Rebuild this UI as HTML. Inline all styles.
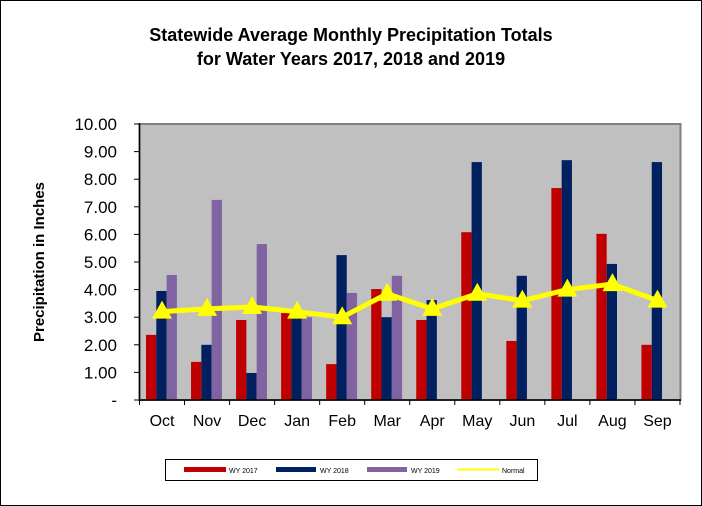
<!DOCTYPE html>
<html><head><style>
html,body{margin:0;padding:0;background:#fff}
svg{display:block;font-family:"Liberation Sans",Arial,sans-serif}
</style></head><body>
<svg width="702" height="506" viewBox="0 0 702 506" xmlns="http://www.w3.org/2000/svg">
<rect x="0.5" y="0.5" width="701" height="505" fill="#fff" stroke="#000"/>
<text x="351" y="41" text-anchor="middle" font-size="18" font-weight="bold">Statewide Average Monthly Precipitation Totals</text>
<text x="351" y="65" text-anchor="middle" font-size="18" font-weight="bold">for Water Years 2017, 2018 and 2019</text>
<rect x="139.5" y="124" width="541" height="276" fill="#c0c0c0" stroke="#808080" stroke-width="2"/>
<g id="bars"></g>
<line x1="139.5" y1="123" x2="139.5" y2="401" stroke="#000" stroke-width="1.5"/>
<line x1="139" y1="400" x2="681" y2="400" stroke="#000" stroke-width="1.5"/>
<g id="ticks" stroke="#000" stroke-width="1"></g>
<g id="ylab" font-size="17" text-anchor="end"></g>
<g id="xlab" font-size="16" text-anchor="middle"></g>
<polyline id="norm" fill="none" stroke="#ffff00" stroke-width="5" stroke-linejoin="round"/>
<g id="tri" fill="#ffff00"></g>
<text transform="translate(44,262) rotate(-90)" text-anchor="middle" font-size="15" font-weight="bold">Precipitation in Inches</text>
<rect x="165.5" y="459.5" width="372" height="21" fill="#fff" stroke="#000"/>
<rect x="184" y="467" width="42" height="5" fill="#c00000"/>
<text x="229" y="473" font-size="7">WY 2017</text>
<rect x="276" y="467" width="40" height="5" fill="#002060"/>
<text x="320" y="473" font-size="7">WY 2018</text>
<rect x="367" y="467" width="40" height="5" fill="#8064a2"/>
<text x="411" y="473" font-size="7">WY 2019</text>
<line x1="457" y1="469.5" x2="499" y2="469.5" stroke="#ffff00" stroke-width="2"/>
<text x="502" y="473" font-size="7">Normal</text>
</svg>
<script>
const ns="http://www.w3.org/2000/svg";
const m=["Oct","Nov","Dec","Jan","Feb","Mar","Apr","May","Jun","Jul","Aug","Sep"];
const r=[2.36,1.38,2.9,3.15,1.3,4.02,2.9,6.08,2.14,7.68,6.02,2.0];
const n=[3.95,2.0,0.98,3.0,5.25,3.0,3.62,8.62,4.5,8.69,4.93,8.62];
const p=[4.53,7.25,5.65,3.0,3.88,4.5,0,0,0,0,0,0];
const nm=[3.2,3.3,3.37,3.2,3.0,3.85,3.3,3.85,3.6,4.0,4.2,3.6];
const x0=139.5,cw=45.04,y0=400,s=27.6;
const Y=v=>y0-v*s;
function el(t,a,par,txt){const e=document.createElementNS(ns,t);for(const k in a)e.setAttribute(k,a[k]);if(txt!==undefined)e.textContent=txt;document.getElementById(par).appendChild(e);return e;}
const cols=["#c00000","#002060","#8064a2"];
let pts=[];
for(let i=0;i<12;i++){
 const gx=x0+i*cw+6.5;
 [r,n,p].forEach((a,j)=>{if(a[i]>0)el("rect",{x:gx+j*10.3,y:Y(a[i]),width:10.3,height:a[i]*s,fill:cols[j]},"bars");});
 const cx=x0+i*cw+cw/2;
 pts.push(cx+","+Y(nm[i]));
 const ty=Y(nm[i]);
 el("polygon",{points:`${cx},${ty-11} ${cx-10},${ty+7} ${cx+10},${ty+7}`},"tri");
 el("text",{x:cx,y:426},"xlab",m[i]);
}
document.getElementById("norm").setAttribute("points",pts.join(" "));
for(let i=0;i<=12;i++){const x=x0+i*cw;el("line",{x1:x,y1:400,x2:x,y2:405},"ticks");}
for(let v=0;v<=10;v++){const y=Y(v);el("line",{x1:134,y1:y,x2:139.5,y2:y},"ticks");
 el("text",{x:117,y:y+6},"ylab",v===0?"-":v.toFixed(2));}
</script>
</body></html>
